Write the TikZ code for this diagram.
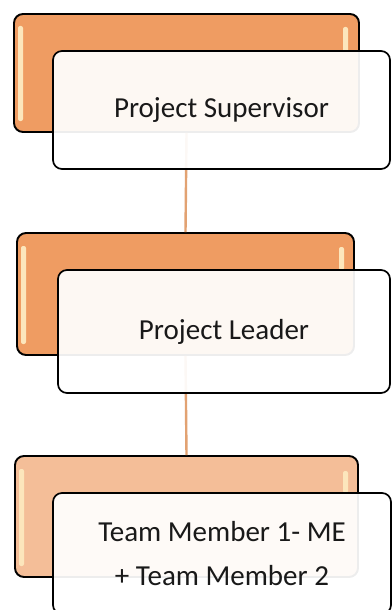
\documentclass[tikz,border=0pt]{standalone}
\usepackage{fontspec}
\setmainfont{Carlito}
\definecolor{orgA}{HTML}{EF9C62}
\definecolor{orgB}{HTML}{F4BE98}
\definecolor{hilite}{HTML}{FCE6BC}
\definecolor{connc}{HTML}{E2A272}
\tikzset{
  back/.style={draw=black, line width=1.9pt, rounded corners=9pt, inner sep=0pt},
  front/.style={draw=black, line width=1.7pt, rounded corners=9pt, fill=white, fill opacity=0.93, text opacity=1, inner sep=0pt, font=\fontsize{29}{44}\selectfont, align=center, text=black!90},
  shine/.style={fill=hilite, rounded corners=2pt, draw=none},
  conn/.style={draw=connc, line width=2.4pt}
}
\begin{document}
\begin{tikzpicture}[x=1pt,y=-1pt]
\useasboundingbox (0,0) rectangle (391,610);
% back boxes
\node[back, fill=orgA, minimum width=345pt, minimum height=118pt] (o1) at (186.5,73) {};
\node[back, fill=orgA, minimum width=337pt, minimum height=122pt] (o2) at (185.5,294) {};
\node[back, fill=orgB, minimum width=343pt, minimum height=121pt] (o3) at (186.5,516.5) {};
% highlights
\fill[shine] (18,26) rectangle (23,121);
\fill[shine] (343,27) rectangle (348,52);
\fill[shine] (21,246) rectangle (26,344);
\fill[shine] (339,247) rectangle (344,270);
\fill[shine] (19,469) rectangle (24,566);
\fill[shine] (343,471) rectangle (348,493);
% connectors
\draw[conn] (o1.south) -- (o2.north);
\draw[conn] (o2.south) -- (o3.north);
% front boxes
\node[front, minimum width=337pt, minimum height=118pt] (w1) at (221.5,110) {\raisebox{2pt}{Project Supervisor}};
\node[front, minimum width=332pt, minimum height=123pt] (w2) at (224,331.5) {Project Leader};
\node[front, minimum width=338pt, minimum height=121pt] (w3) at (222,553.5) {Team Member 1- ME\\+ Team Member 2};
\end{tikzpicture}
\end{document}
